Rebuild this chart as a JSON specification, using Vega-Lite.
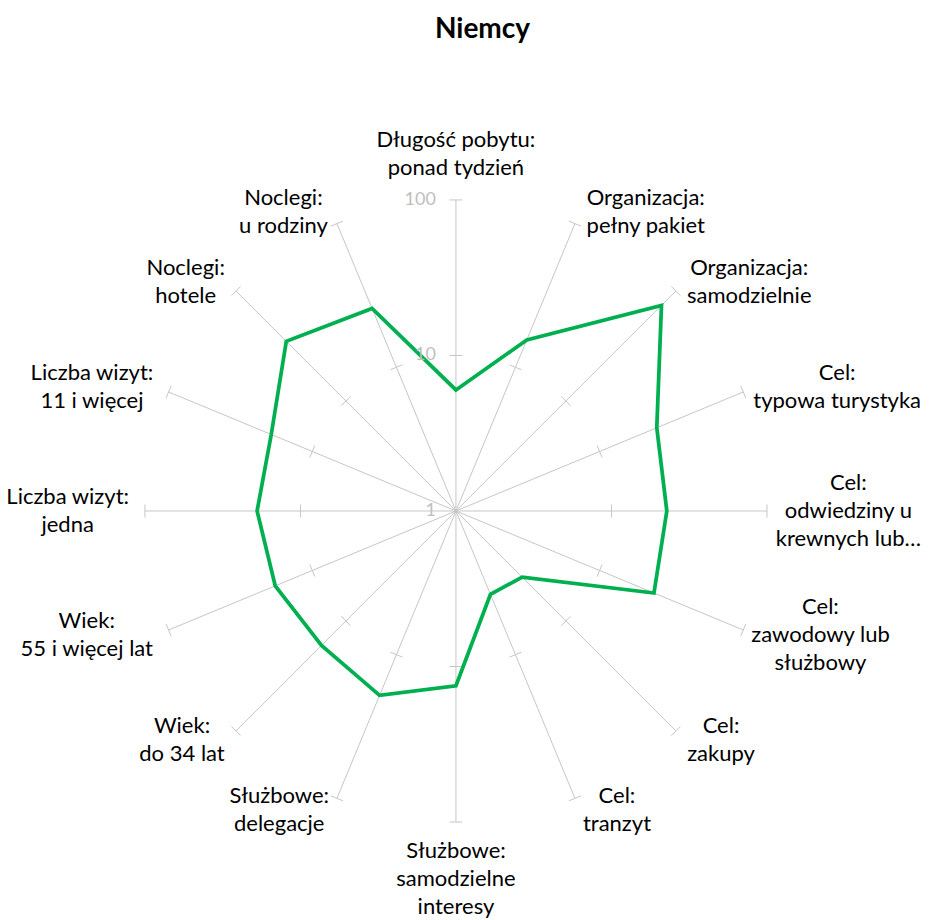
{
  "$schema": "https://vega.github.io/schema/vega-lite/v6.json",
  "width": 929,
  "height": 858,
  "autosize": "none",
  "padding": {"left": 0, "top": 62, "right": 0, "bottom": 0},
  "background": "white",
  "title": {"text": "Niemcy", "font": "Lato", "fontSize": 28, "fontWeight": "bold", "color": "#000000", "anchor": "middle", "dx": 18, "offset": -4, "baseline": "alphabetic"},
  "config": {"view": {"stroke": null}, "font": "Lato"},
  "datasets": {
    "cats": [
      {"i": 0, "wartosc": 6.0, "l1": "Długość pobytu:", "l2": "ponad tydzień", "l3": ""},
      {"i": 1, "wartosc": 15.5, "l1": "Organizacja:", "l2": "pełny pakiet", "l3": ""},
      {"i": 2, "wartosc": 74, "l1": "Organizacja:", "l2": "samodzielnie", "l3": ""},
      {"i": 3, "wartosc": 25, "l1": "Cel:", "l2": "typowa turystyka", "l3": ""},
      {"i": 4, "wartosc": 22.7, "l1": "Cel:", "l2": "odwiedziny u", "l3": "krewnych lub…"},
      {"i": 5, "wartosc": 23.9, "l1": "Cel:", "l2": "zawodowy lub", "l3": "służbowy"},
      {"i": 6, "wartosc": 4.0, "l1": "Cel:", "l2": "zakupy", "l3": ""},
      {"i": 7, "wartosc": 3.8, "l1": "Cel:", "l2": "tranzyt", "l3": ""},
      {"i": 8, "wartosc": 13.3, "l1": "Służbowe:", "l2": "samodzielne", "l3": "interesy"},
      {"i": 9, "wartosc": 19.2, "l1": "Służbowe:", "l2": "delegacje", "l3": ""},
      {"i": 10, "wartosc": 16.7, "l1": "Wiek:", "l2": "do 34 lat", "l3": ""},
      {"i": 11, "wartosc": 18.1, "l1": "Wiek:", "l2": "55 i więcej lat", "l3": ""},
      {"i": 12, "wartosc": 19.0, "l1": "Liczba wizyt:", "l2": "jedna", "l3": ""},
      {"i": 13, "wartosc": 19.3, "l1": "Liczba wizyt:", "l2": "11 i więcej", "l3": ""},
      {"i": 14, "wartosc": 34.9, "l1": "Noclegi:", "l2": "hotele", "l3": ""},
      {"i": 15, "wartosc": 25.7, "l1": "Noclegi:", "l2": "u rodziny", "l3": ""}
    ],
    "skala": [
      {"t": "1", "v": 1},
      {"t": "10", "v": 10},
      {"t": "100", "v": 100}
    ]
  },
  "layer": [
    {
      "data": {"name": "cats"},
      "transform": [
        {"calculate": "datum.i * PI / 8", "as": "a"},
        {"calculate": "0", "as": "o"},
        {"calculate": "2 * sin(datum.a)", "as": "ex"},
        {"calculate": "2 * cos(datum.a)", "as": "ey"}
      ],
      "mark": {"type": "rule", "color": "#c6c6c6", "strokeWidth": 1},
      "encoding": {
        "x": {"field": "o", "type": "quantitative", "scale": {"domain": [-2.932, 3.042], "nice": false, "zero": false}, "axis": null},
        "y": {"field": "o", "type": "quantitative", "scale": {"domain": [-2.630, 2.887], "nice": false, "zero": false}, "axis": null},
        "x2": {"field": "ex"},
        "y2": {"field": "ey"}
      }
    },
    {
      "data": {"name": "cats"},
      "transform": [
        {"calculate": "datum.i * PI / 8", "as": "a"},
        {"calculate": "[1, 2]", "as": "r"},
        {"flatten": ["r"]},
        {"calculate": "datum.r * sin(datum.a) - 0.042 * cos(datum.a)", "as": "tx1"},
        {"calculate": "datum.r * cos(datum.a) + 0.042 * sin(datum.a)", "as": "ty1"},
        {"calculate": "datum.r * sin(datum.a) + 0.042 * cos(datum.a)", "as": "tx2"},
        {"calculate": "datum.r * cos(datum.a) - 0.042 * sin(datum.a)", "as": "ty2"}
      ],
      "mark": {"type": "rule", "color": "#c6c6c6", "strokeWidth": 1},
      "encoding": {
        "x": {"field": "tx1", "type": "quantitative", "scale": {"domain": [-2.932, 3.042], "nice": false, "zero": false}, "axis": null},
        "y": {"field": "ty1", "type": "quantitative", "scale": {"domain": [-2.630, 2.887], "nice": false, "zero": false}, "axis": null},
        "x2": {"field": "tx2"},
        "y2": {"field": "ty2"}
      }
    },
    {
      "data": {"name": "cats"},
      "transform": [
        {"calculate": "datum.i * PI / 8", "as": "a"},
        {"calculate": "log(datum.wartosc) / LN10", "as": "r"},
        {"calculate": "datum.r * sin(datum.a)", "as": "px"},
        {"calculate": "datum.r * cos(datum.a)", "as": "py"}
      ],
      "mark": {"type": "line", "interpolate": "linear-closed", "color": "#00b050", "strokeWidth": 3.75, "strokeJoin": "miter"},
      "encoding": {
        "x": {"field": "px", "type": "quantitative", "scale": {"domain": [-2.932, 3.042], "nice": false, "zero": false}, "axis": null},
        "y": {"field": "py", "type": "quantitative", "scale": {"domain": [-2.630, 2.887], "nice": false, "zero": false}, "axis": null},
        "order": {"field": "i", "type": "quantitative"}
      }
    },
    {
      "data": {"name": "skala"},
      "transform": [
        {"calculate": "0", "as": "o"},
        {"calculate": "log(datum.v) / LN10", "as": "r"}
      ],
      "mark": {"type": "text", "align": "right", "baseline": "middle", "dx": -20, "fontSize": 18, "color": "#bfbfbf", "font": "Lato"},
      "encoding": {
        "x": {"field": "o", "type": "quantitative", "scale": {"domain": [-2.932, 3.042], "nice": false, "zero": false}, "axis": null},
        "y": {"field": "r", "type": "quantitative", "scale": {"domain": [-2.630, 2.887], "nice": false, "zero": false}, "axis": null},
        "text": {"field": "t", "type": "nominal"}
      }
    },
    {
      "data": {"name": "cats"},
      "transform": [
        {"calculate": "datum.i * PI / 8", "as": "a"},
        {"calculate": "abs(sin(datum.a)) < 0.01 ? 0 : (sin(datum.a) > 0 ? 1 : -1)", "as": "s"},
        {"calculate": "datum.l3 ? 3 : 2", "as": "nl"},
        {"calculate": "11.5 * length(datum.l1) - 4.2 * (length(datum.l1) - length(replace(datum.l1, regexp('[ilj:;.,tfr 1I]', 'g'), '')))", "as": "w1"},
        {"calculate": "11.5 * length(datum.l2) - 4.2 * (length(datum.l2) - length(replace(datum.l2, regexp('[ilj:;.,tfr 1I]', 'g'), '')))", "as": "w2"},
        {"calculate": "11.5 * length(datum.l3) - 4.2 * (length(datum.l3) - length(replace(datum.l3, regexp('[ilj:;.,tfr 1I]', 'g'), '')))", "as": "w3"},
        {"calculate": "max(datum.w1, datum.w2, datum.w3) / 2", "as": "hw"},
        {"calculate": "datum.nl == 3 ? datum.l1 + '\\n' + datum.l2 + '\\n' + datum.l3 : datum.l1 + '\\n' + datum.l2", "as": "lab"},
        {"calculate": "2 * sin(datum.a) + datum.s * (5 + 8 * abs(sin(datum.a)) + datum.hw) / 155.5", "as": "cx"},
        {"calculate": "(datum.s == 0 ? 2 * cos(datum.a) + (cos(datum.a) > 0 ? (18 + datum.nl * 14) : -(15 + datum.nl * 14)) / 155.5 : 2 * cos(datum.a) + cos(datum.a) * 13 / 155.5) + (datum.nl - 1) * 14 / 155.5", "as": "cy"}
      ],
      "mark": {"type": "text", "align": "center", "baseline": "middle", "lineBreak": "\n", "lineHeight": 28, "fontSize": 22, "color": "#000000", "font": "Lato"},
      "encoding": {
        "x": {"field": "cx", "type": "quantitative", "scale": {"domain": [-2.932, 3.042], "nice": false, "zero": false}, "axis": null},
        "y": {"field": "cy", "type": "quantitative", "scale": {"domain": [-2.630, 2.887], "nice": false, "zero": false}, "axis": null},
        "text": {"field": "lab", "type": "nominal"}
      }
    }
  ]
}
